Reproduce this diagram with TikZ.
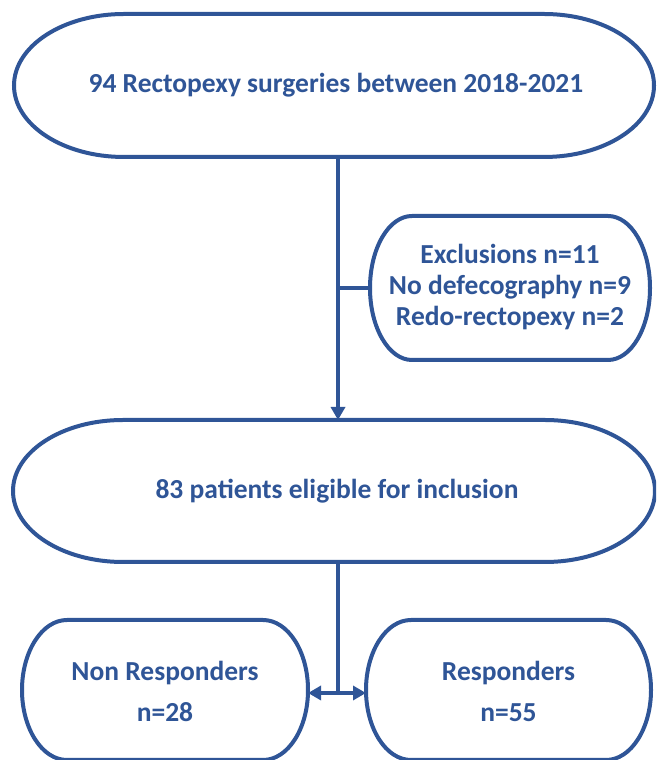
\documentclass[tikz,border=0pt]{standalone}
\usepackage{fontspec}
\setmainfont{Carlito}
\usetikzlibrary{arrows.meta,calc}
\definecolor{ob}{RGB}{47,85,151}
\tikzset{
  lbl/.style={draw=none,inner sep=0pt,outer sep=0pt,text=ob,font=\fontsize{27.5}{32}\selectfont\bfseries,align=center},
  shapeline/.style={draw=ob,line width=4pt,fill=white},
  conn/.style={draw=ob,line width=4pt},
  tip/.style={-{Triangle[length=13pt,width=14pt]}},
}
% #1 = node, #2 = x radius (pt)
\newcommand\termshape[2]{%
  \path let \p1=(#1.north), \p2=(#1.south) in
    \pgfextra{\pgfmathsetmacro\ryy{(\y1-\y2)/2}}
    [shapeline] ([xshift=#2pt]#1.north west) -- ([xshift=-#2pt]#1.north east)
    arc[start angle=90,end angle=-90,x radius=#2pt,y radius=\ryy pt]
    -- ([xshift=#2pt]#1.south west)
    arc[start angle=270,end angle=90,x radius=#2pt,y radius=\ryy pt] -- cycle;
}
\begin{document}
\begin{tikzpicture}[x=1pt,y=1pt]
\useasboundingbox (0,0) rectangle (656,760);
\clip (0,0) rectangle (656,760);
% boxes (invisible frames carrying the text)
\node[lbl,minimum width=640pt,minimum height=143pt] (top) at (334,674.5) {};
\node[lbl,minimum width=280pt,minimum height=144pt] (excl) at (510,472) {};
\node[lbl,minimum width=642pt,minimum height=142pt] (mid) at (334,269) {};
\node[lbl,minimum width=286pt,minimum height=140pt] (nonr) at (165,70) {};
\node[lbl,minimum width=285pt,minimum height=140pt] (resp) at (508.5,70) {};
\coordinate (spine) at (338,0);
% connectors
\draw[conn,tip] (top.south -| spine) -- (mid.north -| spine);
\draw[conn] ($(top.south -| spine)!0.5!(mid.north -| spine)$) coordinate (branch) -- (branch -| excl.west);
\coordinate (split) at (338,67);
\draw[conn] (mid.south -| spine) -- (split);
\draw[conn,{Triangle[length=13pt,width=14pt]}-{Triangle[length=13pt,width=14pt]}] (split -| nonr.east) -- (split -| resp.west);
% shapes
\termshape{top}{110}
\termshape{excl}{42}
\termshape{mid}{110}
\termshape{nonr}{45}
\termshape{resp}{45}
% texts
\node[lbl] (t1) at ([xshift=2pt]top.center) {94 Rectopexy surgeries between 2018-2021};
\node[lbl,font=\fontsize{27.5}{31}\selectfont\bfseries] (t2) at ([yshift=1pt]excl.center) {Exclusions n=11\\No defecography n=9\\Redo-rectopexy n=2};
\node[lbl] (t3) at ([xshift=3pt]mid.center) {83 patients eligible for inclusion};
\node[lbl,font=\fontsize{27.5}{41}\selectfont\bfseries] (t4) at ([yshift=-1pt]nonr.center) {Non Responders\\n=28};
\node[lbl,font=\fontsize{27.5}{41}\selectfont\bfseries] (t5) at ([yshift=-1pt]resp.center) {Responders\\n=55};
\end{tikzpicture}
\end{document}
